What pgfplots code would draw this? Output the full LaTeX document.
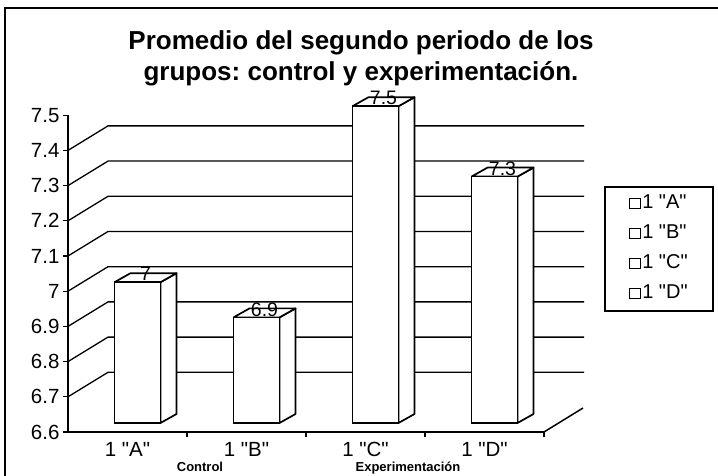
\documentclass[border=0pt]{standalone}
\usepackage{pgfplots}
\pgfplotsset{compat=1.18}
\usepackage{fontspec}
\setmainfont{Liberation Sans}
\frenchspacing
\newcommand\q{\textquotedbl}

% side face and top face of a 3D bar at category #1 with value #2
\newcommand\facets[2]{%
  \addplot[barface] table[row sep=\\, x expr={#1+\thisrow{dx}/119}, y expr={6.6+\thisrow{t}*(#2-6.6)+\thisrow{dy}/352}]
    {dx dy t\\ 23 0 0\\ 39 9 0\\ 39 9 1\\ 23 0 1\\ 23 0 0\\};
  \addplot[barface] table[row sep=\\, x expr={#1+\thisrow{dx}/119}, y expr={#2+\thisrow{dy}/352}]
    {dx dy\\ -23 0\\ 23 0\\ 39 9\\ -7 9\\ -23 0\\};
}

\begin{document}
\begin{tikzpicture}
\useasboundingbox (0,0) rectangle (718pt,475pt);
\clip (0,0) rectangle (718pt,475pt);
\fill[white] (0,0) rectangle (718pt,475pt);
\draw[line width=1.5pt] (5pt,-2pt) -- (5pt,467pt) -- (722pt,467pt);
\node[align=center, anchor=base, font=\bfseries\fontsize{26}{31}\selectfont] at (361pt,394pt)
  {Promedio del segundo periodo de los\\grupos: control y experimentación.};
\node[anchor=base, font=\bfseries\fontsize{13}{13}\selectfont] at (200pt,4pt) {Control};
\node[anchor=base, font=\bfseries\fontsize{13}{13}\selectfont] at (408pt,4pt) {Experimentación};

\begin{axis}[
  at={(68pt,43pt)}, anchor=south west,
  x=119pt, y=352pt,
  xmin=-0.5, xmax=3.5, ymin=6.6, ymax=7.5,
  clip=false,
  axis lines*=left,
  axis line style={line width=1.5pt},
  tick align=outside,
  major tick length=5pt,
  tick style={line width=1.3pt, black},
  ytick={6.6,6.7,6.8,6.9,7,7.1,7.2,7.3,7.4,7.5},
  yticklabel style={font=\fontsize{20.5}{20}\selectfont},
  xtick={0.5,1.5,2.5,3.5}, xticklabels={},
  extra x ticks={0,1,2,3},
  extra x tick labels={1 \q A\q,1 \q B\q,1 \q C\q,1 \q D\q},
  extra x tick style={major tick length=0pt, xticklabel style={font=\fontsize{20.5}{20}\selectfont, yshift=-9pt, inner sep=1pt}},
  /pgf/number format/assume math mode=true,
  barface/.style={fill=white, draw=black, line width=1.7pt, line join=round, xshift=10pt, yshift=9pt, forget plot},
  legend style={at={(1.1261,0.7765)}, anchor=north west, draw=black, line width=1.6pt, fill=white,
    inner xsep=24pt, inner ysep=8pt, row sep=12pt,
    font=\fontsize{20}{20}\selectfont,
    nodes={inner sep=1.5pt, text height=12pt, text depth=3pt}},
  legend cell align=left,
  legend image code/.code={\draw[line width=1pt,black,fill=white] (0pt,-5pt) rectangle (11pt,5pt);},
]
% back wall gridlines with the diagonals from the front ticks
\pgfplotsinvokeforeach{6.7,6.8,6.9,7.0,7.1,7.2,7.3,7.4}{
  \draw[line width=1.3pt] (axis cs:-0.5,#1) -- ++(40pt,24.5pt) -- ([shift={(40pt,24.5pt)}]axis cs:3.5,#1);
}
\draw[line width=1.5pt] (axis cs:3.5,6.6) -- ++(39pt,24pt);

\facets{0}{7.0}
\facets{1}{6.9}
\facets{2}{7.5}
\facets{3}{7.3}

\addplot[ybar, bar width=46pt, fill=white, draw=black, line width=1.7pt, xshift=10pt, yshift=9pt, forget plot,
  nodes near coords,
  nodes near coords style={anchor=center, xshift=8pt, yshift=8pt, font=\fontsize{19.5}{19}\selectfont, text=black, inner sep=0.5pt}]
  coordinates {(0,7.0) (1,6.9) (2,7.5) (3,7.3)};

\addlegendimage{black}\addlegendentry{1 \q A\q}
\addlegendimage{black}\addlegendentry{1 \q B\q}
\addlegendimage{black}\addlegendentry{1 \q C\q}
\addlegendimage{black}\addlegendentry{1 \q D\q}
\end{axis}
\end{tikzpicture}
\end{document}
